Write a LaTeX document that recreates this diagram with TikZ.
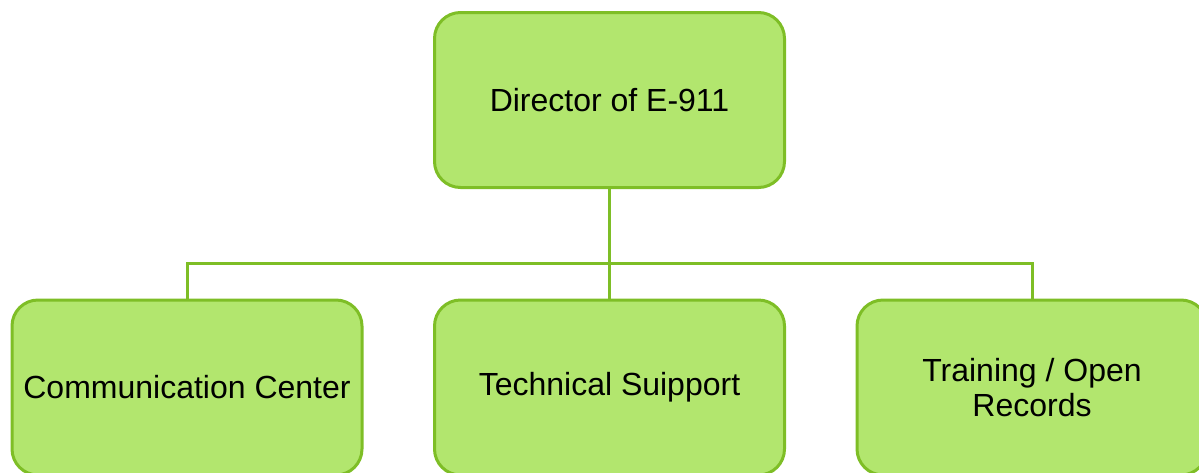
\documentclass[tikz,border=0pt]{standalone}
\usepackage{fontspec}
\setmainfont{Liberation Sans}
\usetikzlibrary{positioning}
\definecolor{unitfill}{RGB}{178,230,110}
\definecolor{unitline}{RGB}{126,190,38}
\tikzset{
	unit/.style={draw=unitline, fill=unitfill, line width=3pt, rounded corners=26pt,
		minimum width=350pt, minimum height=175pt, align=center,
		font=\fontsize{32}{35}\selectfont},
	link/.style={draw=unitline, line width=3pt}
}
\begin{document}
\begin{tikzpicture}[x=1pt,y=-1pt]
				\clip (0,0) rectangle (1199,472);
				
				\node[unit] (director) at (609.5,100) {Director of E-911};
				
				\node[unit] (comm) at (187,387.5) {Communication Center};
				\node[unit] (tech) at (609.5,387.5) {Technical Suipport};
				\node[unit] (train) at (1032,387.5) {Training / Open\\Records};
				
				\coordinate (bus) at (609.5,263);
				\draw[link] (director.south) -- (bus);
				\draw[link] (comm.north) |- (bus);
				\draw[link] (train.north) |- (bus);
				\draw[link] (tech.north) -- (bus);
			\end{tikzpicture}
\end{document}
